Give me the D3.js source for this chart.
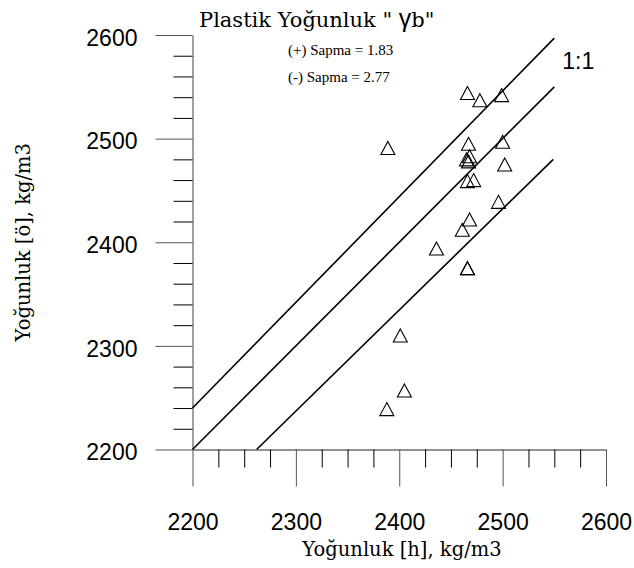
<!DOCTYPE html>
<html>
<head>
<meta charset="utf-8">
<script src="https://cdn.jsdelivr.net/npm/d3@7"></script>
<style>
  html, body { margin: 0; padding: 0; background: #fff; }
  svg { display: block; }
</style>
</head>
<body>
<svg id="chart" width="634" height="568"></svg>
<script>
// Measured vs. predicted density, kg/m3
const measuredH = [2389, 2466, 2478, 2499, 2467, 2500, 2465, 2468, 2467, 2502,
                   2466, 2472, 2496, 2468, 2461, 2436, 2466, 2466, 2401, 2405, 2388];
const predictedO = [2491, 2544, 2537, 2542, 2495, 2497, 2480, 2483, 2478, 2475,
                    2459, 2460, 2439, 2422, 2412, 2394, 2375, 2375, 2310, 2257, 2239];

// Reference lines: upper deviation, 1:1, lower deviation
const upperLineX = [2200, 2550], upperLineY = [2240, 2597];
const equalLineX = [2200, 2550], equalLineY = [2200, 2550];
const lowerLineX = [2262, 2549], lowerLineY = [2200, 2480];

const majorTicks = [2200, 2300, 2400, 2500, 2600];
const xMinorTicks = d3.range(2200, 2601, 25).filter(v => v % 100 !== 0);
const yMinorTicks = d3.range(2200, 2601, 20).filter(v => v % 100 !== 0);

const titleText = "Plastik Yoğunluk \" ";
const gammaText = "γ";
const titleTail = "b\"";
const plusText = "(+) Sapma = 1.83";
const minusText = "(-) Sapma = 2.77";
const xLabel = "Yoğunluk [h], kg/m3";
const yLabel = "Yoğunluk [ö], kg/m3";

const svg = d3.select("#chart");
const x = d3.scaleLinear().domain([2200, 2600]).range([192.5, 606]);
const y = d3.scaleLinear().domain([2200, 2600]).range([449.5, 35]);

const serif = "'DejaVu Serif', 'Liberation Serif', serif";
const noteSerif = "'Liberation Serif', 'DejaVu Serif', serif";
const sans = "'Liberation Sans', Arial, sans-serif";

// Axes: long major ticks with labels, short unlabeled minor ticks
function styleAxis(g) {
  g.select(".domain").attr("stroke", "#6e6e6e").attr("stroke-width", 1.3);
  g.selectAll(".tick line").attr("stroke", "#555").attr("stroke-width", 1);
  g.selectAll(".tick text").attr("font-family", sans).attr("font-size", 23).attr("fill", "#000");
}

const xAxis = svg.append("g").attr("transform", `translate(0,${y(2200)})`)
  .call(d3.axisBottom(x).tickValues(majorTicks).tickSize(37).tickPadding(27).tickSizeOuter(0).tickFormat(d3.format("d")));
styleAxis(xAxis);
svg.append("g").attr("transform", `translate(0,${y(2200)})`)
  .call(d3.axisBottom(x).tickValues(xMinorTicks).tickSize(18).tickFormat(""))
  .call(g => g.select(".domain").remove())
  .selectAll(".tick line").attr("stroke", "#000");

const yAxis = svg.append("g").attr("transform", `translate(${x(2200)},0)`)
  .call(d3.axisLeft(y).tickValues(majorTicks).tickSize(37).tickPadding(18).tickSizeOuter(0).tickFormat(d3.format("d")));
styleAxis(yAxis);
yAxis.selectAll(".tick text").attr("dy", "0.45em");
svg.append("g").attr("transform", `translate(${x(2200)},0)`)
  .call(d3.axisLeft(y).tickValues(yMinorTicks).tickSize(19).tickFormat(""))
  .call(g => g.select(".domain").remove())
  .selectAll(".tick line").attr("stroke", "#000");

// Diagonal reference lines
const lines = [
  [upperLineX, upperLineY],
  [equalLineX, equalLineY],
  [lowerLineX, lowerLineY]
];
const lineGen = d3.line().x(d => x(d[0])).y(d => y(d[1]));
svg.append("g").selectAll("path").data(lines).join("path")
  .attr("d", d => lineGen(d[0].map((v, i) => [v, d[1][i]])))
  .attr("fill", "none").attr("stroke", "#000").attr("stroke-width", 1.6);

svg.append("text").attr("x", x(equalLineX[1]) + 8).attr("y", y(equalLineY[1]) - 18)
  .attr("font-family", sans).attr("font-size", 23).text("1:1");

// Data points as open triangles centred on their bounding box
const triW = 14, triH = 13;
const triPath = `M0,${-triH / 2}L${triW / 2},${triH / 2}L${-triW / 2},${triH / 2}Z`;
svg.append("g").selectAll("path").data(measuredH.map((v, i) => [v, predictedO[i]])).join("path")
  .attr("transform", d => `translate(${x(d[0])},${y(d[1])})`)
  .attr("d", triPath)
  .attr("fill", "none").attr("stroke", "#000").attr("stroke-width", 1.1);

// Title and deviation notes
const title = svg.append("text").attr("x", 199).attr("y", 27)
  .attr("font-family", serif).attr("font-size", 21);
title.append("tspan").text(titleText);
title.append("tspan").attr("font-family", sans).attr("font-size", 25).text(gammaText);
title.append("tspan").text(titleTail);

svg.append("text").attr("x", 288).attr("y", 55).attr("font-family", noteSerif).attr("font-size", 15).text(plusText);
svg.append("text").attr("x", 288).attr("y", 82).attr("font-family", noteSerif).attr("font-size", 15).text(minusText);

// Axis titles
svg.append("text").attr("x", 402).attr("y", 556).attr("text-anchor", "middle")
  .attr("font-family", serif).attr("font-size", 19.5).text(xLabel);
svg.append("text").attr("transform", `translate(30,${(y(2200) + y(2600)) / 2}) rotate(-90)`)
  .attr("text-anchor", "middle").attr("font-family", serif).attr("font-size", 19.5).text(yLabel);
</script>
</body>
</html>
